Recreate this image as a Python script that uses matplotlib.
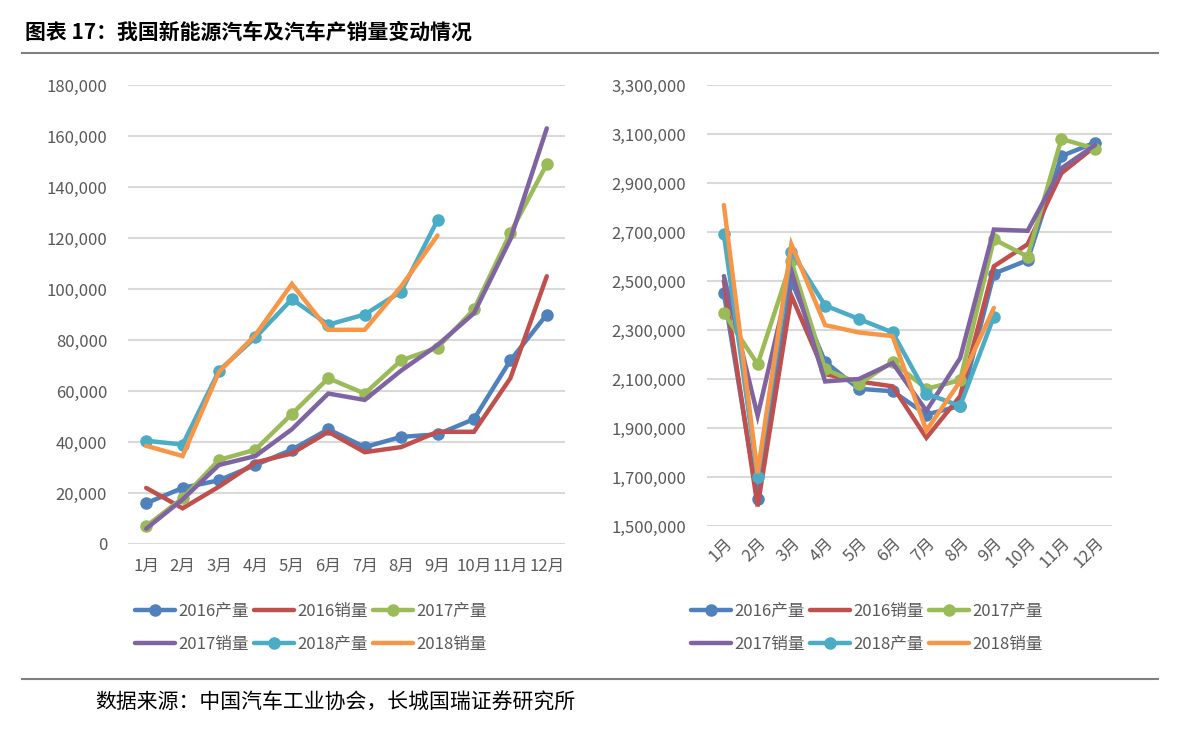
import matplotlib
matplotlib.use("Agg")
import matplotlib.pyplot as plt
from matplotlib.ticker import FuncFormatter
from matplotlib.lines import Line2D

plt.rcParams['font.family'] = ['Noto Sans CJK SC', 'DejaVu Sans']

months = ["1月", "2月", "3月", "4月", "5月", "6月", "7月", "8月", "9月", "10月", "11月", "12月"]
series_names = ["2016产量", "2016销量", "2017产量", "2017销量", "2018产量", "2018销量"]

# 新能源汽车 (辆)
nev_2016_prod = [16000, 22000, 25000, 31000, 37000, 45000, 38000, 42000, 43000, 49000, 72000, 90000]
nev_2016_sales = [22000, 14000, 22500, 32000, 35500, 44000, 36000, 38000, 44000, 44000, 65000, 105000]
nev_2017_prod = [7000, 18000, 33000, 37000, 51000, 65000, 59000, 72000, 77000, 92000, 122000, 149000]
nev_2017_sales = [6000, 17500, 31000, 34500, 45000, 59000, 56500, 68000, 78000, 90500, 119500, 163000]
nev_2018_prod = [40500, 39000, 68000, 81000, 96000, 86000, 90000, 99000, 127000]
nev_2018_sales = [38500, 34500, 67500, 82000, 102000, 84000, 84000, 101000, 121000]

# 汽车 (辆)
car_2016_prod = [2450000, 1610000, 2500000, 2170000, 2060000, 2050000, 1955000, 1990000, 2530000, 2585000, 3010000, 3065000]
car_2016_sales = [2500000, 1580000, 2440000, 2120000, 2090000, 2070000, 1860000, 2030000, 2560000, 2650000, 2940000, 3050000]
car_2017_prod = [2370000, 2160000, 2580000, 2140000, 2080000, 2170000, 2060000, 2095000, 2670000, 2600000, 3080000, 3040000]
car_2017_sales = [2520000, 1950000, 2540000, 2090000, 2100000, 2165000, 1970000, 2185000, 2710000, 2705000, 2960000, 3055000]
car_2018_prod = [2690000, 1700000, 2620000, 2400000, 2345000, 2290000, 2040000, 1990000, 2355000]
car_2018_sales = [2810000, 1715000, 2650000, 2320000, 2290000, 2275000, 1890000, 2090000, 2390000]

colors = ["#4F81BD", "#C0504D", "#9BBB59", "#8064A2", "#4BACC6", "#F79646"]
has_marker = [True, False, True, False, True, False]

TICK_COLOR = "#595959"
GRID_COLOR = "#D9D9D9"


def draw_panel(ax, data, ymin, ymax, step, rotate):
    for vals, name, c, mk in zip(data, series_names, colors, has_marker):
        ax.plot(range(len(vals)), vals, color=c, lw=3.2, label=name,
                marker="o" if mk else None, markersize=8, solid_capstyle="round",
                solid_joinstyle="miter", zorder=3)
    ax.set_xlim(-0.5, 11.5)
    ax.set_ylim(ymin, ymax)
    ax.set_yticks(range(ymin, ymax + 1, step))
    ax.yaxis.set_major_formatter(FuncFormatter(lambda v, p: f"{int(v):,}"))
    ax.set_xticks(range(12))
    if rotate:
        ax.set_xticklabels(months, rotation=45, ha="right", rotation_mode="anchor")
    else:
        ax.set_xticklabels(months)
    ax.grid(axis="y", color=GRID_COLOR, lw=1.5, zorder=0)
    ax.set_axisbelow(True)
    for s in ax.spines.values():
        s.set_visible(False)
    ax.tick_params(length=0, colors=TICK_COLOR, labelsize=12)
    ax.tick_params(axis="y", pad=15)
    ax.tick_params(axis="x", pad=10)


fig = plt.figure(figsize=(11.91, 7.34), dpi=100)
W, H = 1191, 734

ax1 = fig.add_axes([128 / W, 1 - 544 / H, 437 / W, 459 / H])
draw_panel(ax1, [nev_2016_prod, nev_2016_sales, nev_2017_prod, nev_2017_sales,
                 nev_2018_prod, nev_2018_sales], 0, 180000, 20000, False)

ax2 = fig.add_axes([707 / W, 1 - 526 / H, 405 / W, 441 / H])
draw_panel(ax2, [car_2016_prod, car_2016_sales, car_2017_prod, car_2017_sales,
                 car_2018_prod, car_2018_sales], 1500000, 3300000, 200000, True)
ax2.tick_params(axis="x", pad=6)

# legends: 2 rows x 3 columns, filled row-wise
order = [0, 3, 1, 4, 2, 5]
for ax, x0 in [(ax1, 120), (ax2, 676)]:
    h, l = ax.get_legend_handles_labels()
    fig.legend([h[i] for i in order], [l[i] for i in order], ncol=3,
               loc="upper left", bbox_to_anchor=(x0 / W, 1 - 588 / H),
               frameon=False, fontsize=12, handlelength=2.4, handletextpad=0.2,
               columnspacing=0.3, labelspacing=0.95, labelcolor=TICK_COLOR)

fig.text(25 / W, 1 - 32 / H, "图表 17：我国新能源汽车及汽车产销量变动情况",
         fontsize=15, fontweight="bold", va="center", ha="left")
fig.add_artist(Line2D([22 / W, 1158 / W], [1 - 53 / H, 1 - 53 / H], color="#7F7F7F", lw=1.5))
fig.add_artist(Line2D([22 / W, 1158 / W], [1 - 679 / H, 1 - 679 / H], color="#7F7F7F", lw=1.5))
fig.text(95 / W, 1 - 703 / H, "数据来源：中国汽车工业协会，长城国瑞证券研究所",
         fontsize=15, va="center", ha="left")

fig.savefig("out.png", dpi=100)
